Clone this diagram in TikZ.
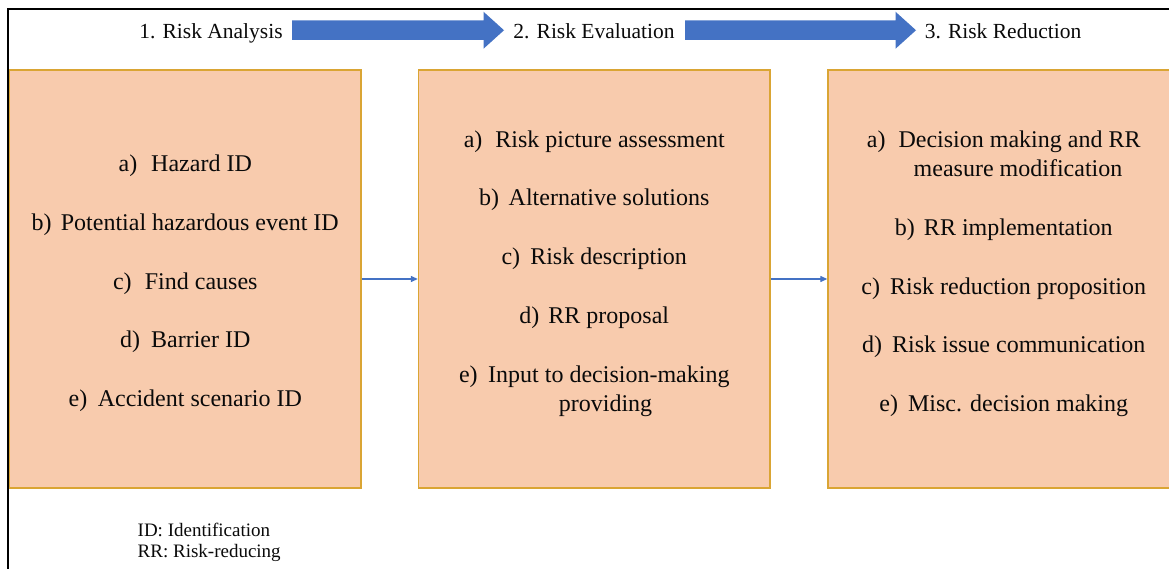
\documentclass[tikz,border=0pt]{standalone}
\usepackage{fontspec}
\setmainfont{Liberation Serif}
\usetikzlibrary{arrows.meta,calc}
\definecolor{boxfill}{HTML}{F8CBAD}
\definecolor{boxline}{RGB}{218,165,52}
\definecolor{flowblue}{HTML}{4472C4}
\definecolor{ink}{RGB}{10,10,10}
% wide block arrow between two named points (tail, tip)
\newcommand{\stagearrow}[2]{%
  \fill[blockarrow] ($(#1)+(0,-9.75)$) -- ($(#2)+(-20.5,-9.75)$) -- ($(#2)+(-20.5,-18.5)$)
    -- (#2) -- ($(#2)+(-20.5,18.5)$) -- ($(#2)+(-20.5,9.75)$) -- ($(#1)+(0,9.75)$) -- cycle;}
\begin{document}
\begin{tikzpicture}[x=1pt,y=-1pt,
  stagebox/.style={draw=boxline,line width=1.4pt,fill=boxfill,minimum width=351.5pt,minimum height=418pt,inner sep=0pt},
  itemtext/.style={anchor=base,font=\fontsize{24}{29.3}\selectfont,text=ink,inner sep=0pt},
  stagetitle/.style={anchor=base,font=\fontsize{21.5}{26}\selectfont,text=ink,inner sep=0pt},
  abbrev/.style={anchor=base west,font=\fontsize{19}{21}\selectfont,text=ink,inner sep=0pt},
  blockarrow/.style={fill=flowblue},
  flowlink/.style={draw=flowblue,line width=1.3pt,-{Triangle[length=7pt,width=6pt]}}
]
\useasboundingbox (0,0) rectangle (1169,569);
\clip (0,0) rectangle (1169,569);
\fill[white] (0,0) rectangle (1169,569);
% frame
\draw[line width=2.2pt] (7.8,600) -- (7.8,9) -- (1200,9);

% stage boxes
\node[stagebox] (s1) at (185.25,279) {};
\node[stagebox] (s2) at (594.25,279) {};
\node[stagebox] (s3) at (1003.75,279) {};

% stage titles
\node[stagetitle] (t1) at (211,39) {1. Risk Analysis};
\node[stagetitle] (t2) at (594,39) {2. Risk Evaluation};
\node[stagetitle] (t3) at (1003,39) {3. Risk Reduction};

% block arrows between titles
\coordinate (a1s) at (292,30.25);
\coordinate (a1e) at (504,30.25);
\coordinate (a2s) at (685,30.25);
\coordinate (a2e) at (916,30.25);
\stagearrow{a1s}{a1e}
\stagearrow{a2s}{a2e}

% links between boxes
\draw[flowlink] (s1.east) -- (s2.west);
\draw[flowlink] (s2.east) -- (s3.west);

% 1. risk analysis
\node[itemtext] (s1a) at (185.25,172)   {a)\hspace{.58em}Hazard ID};
\node[itemtext] (s1b) at (185.25,230.6) {b)\hspace{.38em}Potential hazardous event ID};
\node[itemtext] (s1c) at (185.25,289.3) {c)\hspace{.55em}Find causes};
\node[itemtext] (s1d) at (185.25,347.9) {d)\hspace{.46em}Barrier ID};
\node[itemtext] (s1e) at (185.25,406.6) {e)\hspace{.44em}Accident scenario ID};

% 2. risk evaluation
\node[itemtext] (s2a) at (594.25,147.3) {a)\hspace{.54em}Risk picture assessment};
\node[itemtext] (s2b) at (594.25,206)   {b)\hspace{.4em}Alternative solutions};
\node[itemtext] (s2c) at (594.25,264.7) {c)\hspace{.42em}Risk description};
\node[itemtext] (s2d) at (594.25,323.4) {d)\hspace{.38em}RR proposal};
\node[itemtext] (s2e) at (594.25,382)   {e)\hspace{.44em}Input to decision-making};
\node[itemtext] (s2e2) at (605.5,411.3) {providing};

% 3. risk reduction
\node[itemtext] (s3a) at (1003.75,147.3) {a)\hspace{.54em}Decision making and RR};
\node[itemtext] (s3a2) at (1018,176.6)   {measure modification};
\node[itemtext] (s3b) at (1003.75,235.3) {b)\hspace{.38em}RR implementation};
\node[itemtext] (s3c) at (1003.75,294)   {c)\hspace{.42em}Risk reduction proposition};
\node[itemtext] (s3d) at (1003.75,352.6) {d)\hspace{.42em}Risk issue communication};
\node[itemtext] (s3e) at (1003.75,411.3) {e)\hspace{.42em}Misc. decision making};

% abbreviations
\node[abbrev] (n1) at (137.5,536) {ID: Identification};
\node[abbrev] (n2) at (137.5,557) {RR: Risk-reducing};
\end{tikzpicture}
\end{document}
